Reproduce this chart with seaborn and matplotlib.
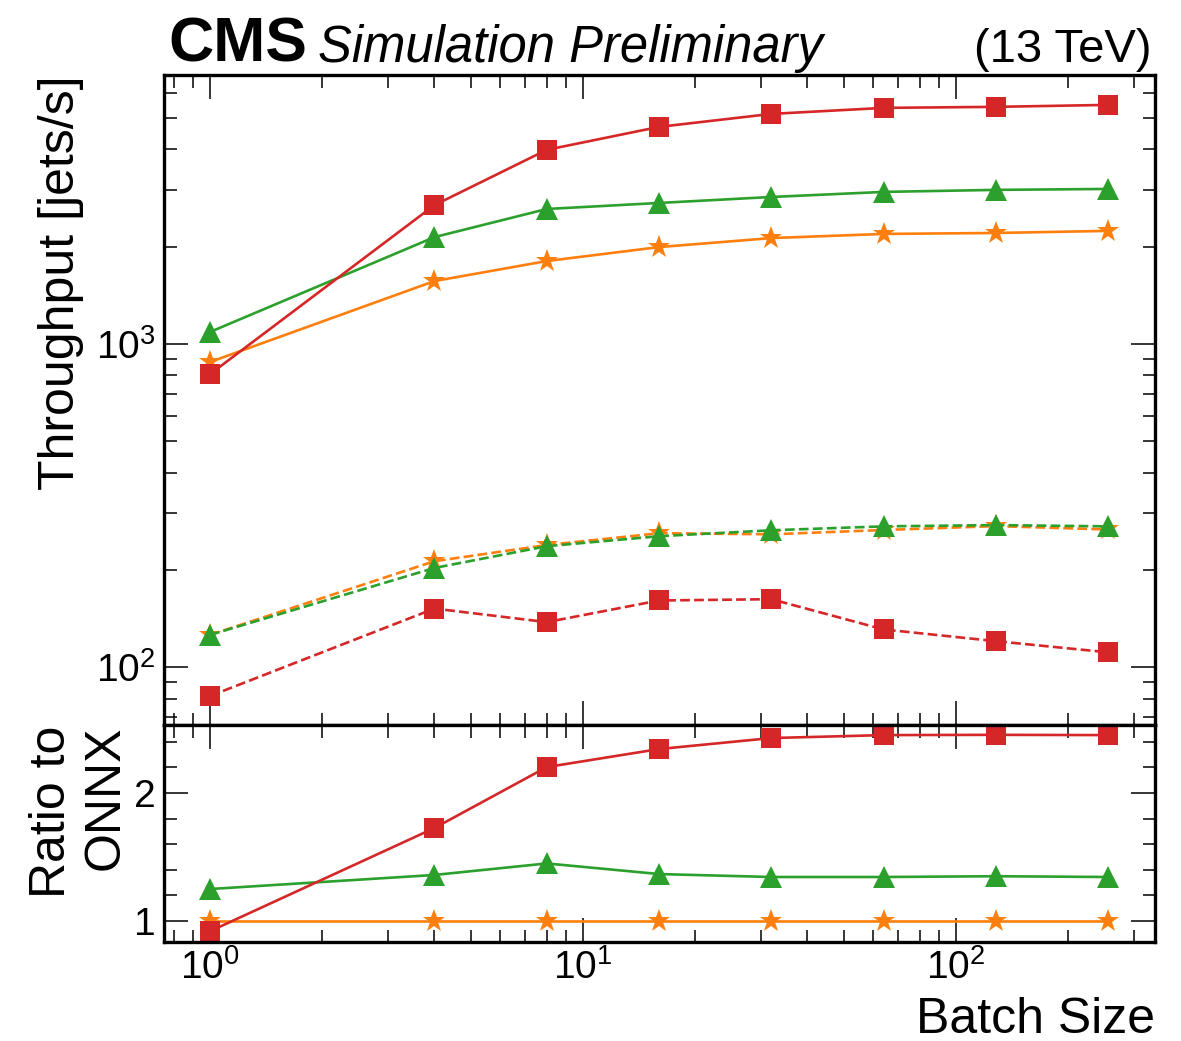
import numpy as np
import matplotlib
matplotlib.use("Agg")
import matplotlib.pyplot as plt
import matplotlib.ticker as mticker
import seaborn as sns

sns.set_theme(style="ticks")
plt.rcParams["font.family"] = ["Liberation Sans", "DejaVu Sans"]
plt.rcParams["mathtext.fontset"] = "custom"
plt.rcParams["mathtext.rm"] = "Liberation Sans"
plt.rcParams["mathtext.it"] = "Liberation Sans:italic"
plt.rcParams["mathtext.bf"] = "Liberation Sans:bold"
for key in ["text.color", "axes.labelcolor", "xtick.color", "ytick.color",
            "axes.edgecolor"]:
    plt.rcParams[key] = "black"

# ── data ──────────────────────────────────────────────────────────────────────
BATCH = [1, 4, 8, 16, 32, 64, 128, 256]

# throughput [jets/s], solid lines
THR_RED = [807, 2692, 3990, 4699, 5154, 5380, 5420, 5496]
THR_GREEN = [1090, 2143, 2618, 2733, 2852, 2957, 3000, 3020]
THR_ORANGE = [880, 1567, 1807, 1996, 2128, 2192, 2207, 2240]

# throughput [jets/s], dashed lines
THR_RED_DASH = [81.5, 152, 138, 161, 162.5, 131, 120.5, 111.3]
THR_GREEN_DASH = [126, 203, 237, 254.5, 265.5, 273, 275.5, 273]
THR_ORANGE_DASH = [126, 213, 239, 260, 258, 266, 273.5, 267]

# ratio to ONNX (orange)
RATIO_RED = [0.92, 1.727, 2.203, 2.344, 2.43, 2.453, 2.455, 2.453]
RATIO_GREEN = [1.25, 1.36, 1.45, 1.367, 1.344, 1.344, 1.35, 1.344]
RATIO_ORANGE = [1.0, 1.0, 1.0, 1.0, 1.0, 1.0, 1.0, 1.0]

RED, GREEN, ORANGE = "#d62728", "#2ca02c", "#ff7f0e"

# (values, colour, marker, markersize), drawn in this order
SOLID = [(THR_ORANGE, ORANGE, "*", 17), (THR_GREEN, GREEN, "^", 16), (THR_RED, RED, "s", 15)]
DASHED = [(THR_ORANGE_DASH, ORANGE, "*", 17), (THR_GREEN_DASH, GREEN, "^", 16), (THR_RED_DASH, RED, "s", 15)]
RATIO = [(RATIO_ORANGE, ORANGE, "*", 17), (RATIO_GREEN, GREEN, "^", 16), (RATIO_RED, RED, "s", 15)]

W, H = 1181, 1041
fig = plt.figure(figsize=(W / 100, H / 100), dpi=100)
gs = fig.add_gridspec(2, 1, height_ratios=[3, 1], hspace=0,
                      left=164 / W, right=1155 / W,
                      top=1 - 75 / H, bottom=1 - 942 / H)
ax = fig.add_subplot(gs[0])
rax = fig.add_subplot(gs[1], sharex=ax)


def draw(axis, series, ls):
    for vals, color, marker, ms in series:
        sns.lineplot(x=BATCH, y=vals, ax=axis, color=color, marker=marker,
                     markersize=ms, markeredgewidth=0, linewidth=1.9,
                     linestyle=ls, clip_on=True)


draw(ax, SOLID, "-")
draw(ax, DASHED, "--")
draw(rax, RATIO, "-")

ax.set_xscale("log")
ax.set_yscale("log")
ax.set_xlim(0.753, 342)
ax.set_ylim(66.2, 6800)
rax.set_ylim(0.836, 2.53)

for a in (ax, rax):
    a.tick_params(which="both", direction="in", top=True, right=True,
                  color="black", width=1.1)
    a.tick_params(which="major", length=17, labelsize=28, pad=6)
    a.tick_params(which="minor", length=9)
    for sp in a.spines.values():
        sp.set_linewidth(2.4)
        sp.set_color("black")

ax.xaxis.set_minor_formatter(mticker.NullFormatter())
ax.yaxis.set_minor_formatter(mticker.NullFormatter())
ax.yaxis.set_major_locator(mticker.LogLocator(base=10))
ax.yaxis.set_minor_locator(mticker.LogLocator(base=10, subs=np.arange(2, 10)))
ax.tick_params(axis="x", labelbottom=False)
rax.tick_params(axis="x", pad=5)

rax.yaxis.set_major_locator(mticker.FixedLocator([1, 2]))
rax.yaxis.set_minor_locator(mticker.MultipleLocator(0.2))
rax.yaxis.set_major_formatter(mticker.FormatStrFormatter("%d"))

ax.set_ylabel("Throughput [jets/s]", fontsize=36, loc="top")
ax.yaxis.set_label_coords(-0.081, 1.0)
rax.set_ylabel("Ratio to\nONNX", fontsize=36, loc="top")
rax.yaxis.set_label_coords(-0.036, 1.0)
rax.set_xlabel("Batch Size", fontsize=36, loc="right")
rax.xaxis.set_label_coords(1.0, -0.255)

fig.text(168 / W, 1 - 62 / H, "CMS", fontsize=45, fontweight="bold",
         ha="left", va="baseline")
fig.text(318 / W, 1 - 62 / H, "Simulation Preliminary", fontsize=36.5,
         fontstyle="italic", ha="left", va="baseline")
fig.text(1152 / W, 1 - 62 / H, "(13 TeV)", fontsize=34,
         ha="right", va="baseline")

fig.savefig("out.png", dpi=100)
